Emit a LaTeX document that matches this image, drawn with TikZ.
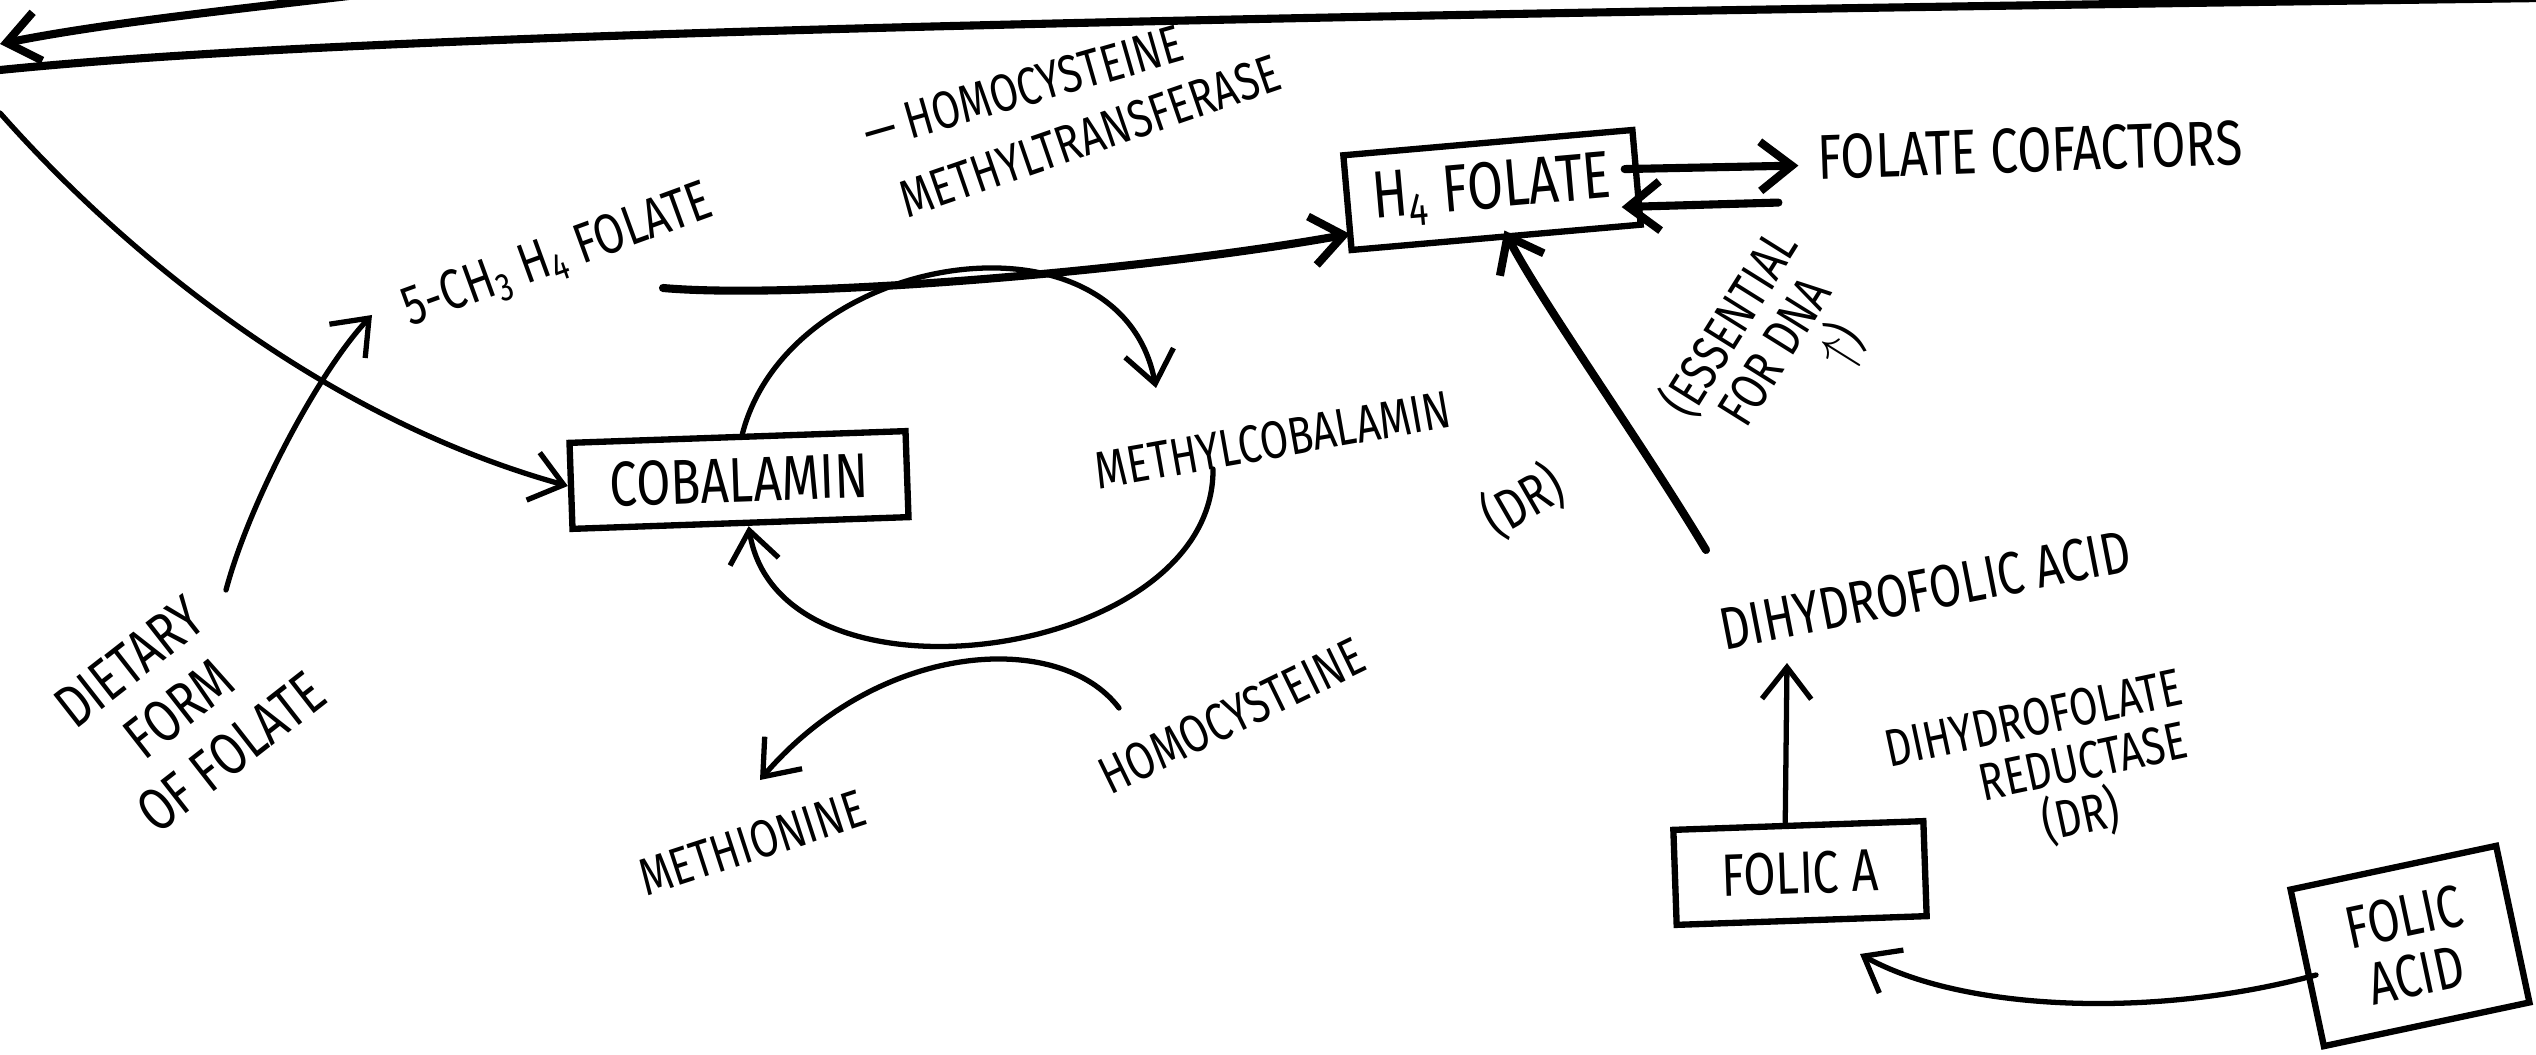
\documentclass[tikz,border=0pt]{standalone}
\usepackage{fontspec}
\newfontfamily\hand[FakeStretch=0.78]{Fira Sans}
\usetikzlibrary{arrows.meta,calc}
\begin{document}
\begin{tikzpicture}[x=0.01cm,y=-0.01cm,
  ink/.style={line width=1.5pt, line cap=round},
  heavy/.style={line width=2.3pt, line cap=round},
  arr/.style={-{Straight Barb[length=9pt,width=14pt]}},
  lbl/.style={inner sep=1pt, align=center},
  fs/.style={font=\hand\fontsize{#1}{#1*1.15}\selectfont},
  fsw/.style={font=\hand\fontsize{#1}{#1*1.5}\selectfont},
  box/.style={draw, line width=1.8pt, inner sep=4pt, align=center}
]
\useasboundingbox (0,0) rectangle (2536,1055);
\fill[white] (0,0) rectangle (2536,1055);

% nodes
\node[box, fs=19pt, rotate=5, minimum width=2.9cm, minimum height=0.95cm] (h4) at (1492,190) {H\textsubscript{4} FOLATE};
\node[lbl, fs=18pt, rotate=2] (cof) at (2030,150) {FOLATE COFACTORS};
\node[box, fs=18pt, rotate=2, minimum width=3.36cm, minimum height=0.86cm] (cob) at (739,480) {COBALAMIN};
\node[lbl, fs=15pt, rotate=10] (mcob) at (1273,440) {METHYLCOBALAMIN};
\node[lbl, fs=16pt, rotate=20] (ch3) at (558,257) {5-CH\textsubscript{3} H\textsubscript{4} FOLATE};
\node[lbl, fs=15pt, rotate=16] (hmt1) at (1023,88) {— HOMOCYSTEINE};
\node[lbl, fs=15pt, rotate=19] (hmt2) at (1090,136) {METHYLTRANSFERASE};
\node[lbl, fs=15pt, rotate=26] (hcy) at (1232,716) {HOMOCYSTEINE};
\node[lbl, fs=15pt, rotate=18] (met) at (752,843) {METHIONINE};
\node[lbl, fsw=17pt, rotate=38, align=left] (diet) at (190,700) {DIETARY\\[2pt]\hspace*{0.6em}FORM\\[2pt]OF FOLATE};
\node[lbl, fs=16pt, rotate=30] (dr1) at (1523,501) {(DR)};
\node[lbl, fsw=15pt, rotate=58] (ess) at (1775,352) {(ESSENTIAL\\FOR DNA\\\hspace*{1.5em}{\Large$\uparrow$})};
\node[lbl, fs=17pt, rotate=11] (dhf) at (1925,590) {DIHYDROFOLIC ACID};
\node[lbl, fsw=15pt, rotate=12] (dhfr) at (2045,773) {DIHYDROFOLATE\\\hspace*{1.5em}REDUCTASE\\\hspace*{1em}(DR)};
\node[box, fs=17pt, rotate=2, minimum width=2.5cm, minimum height=0.95cm] (fa) at (1800,873) {FOLIC A};
\node[box, fs=17pt, rotate=12, minimum width=2.1cm, minimum height=1.6cm] (facid) at (2410,946) {FOLIC\\ACID};

% free ends at the page edge
\coordinate (tlA0) at (0,44);
\coordinate (tlA1) at (440,-15);
\coordinate (tlB0) at (0,70);
\coordinate (tlB1) at (2545,-2);
\coordinate (tlC) at (0,113);

% top-left strokes
\draw[heavy, {Straight Barb[length=9pt,width=14pt]}-] (tlA0) .. controls (120,20) and (280,5) .. (tlA1);
\draw[heavy] (tlB0) .. controls (300,40) and (900,20) .. (tlB1);
\draw[ink, arr] (tlC) .. controls (130,260) and (330,420) .. (cob.west);

% connectors
\draw[ink, arr] ($(diet.center)+(36,-110)$) .. controls (250,500) and (320,370) .. ($(ch3.center)+(-186,58)$);
\draw[heavy, arr] ($(ch3.center)+(105,31)$) .. controls (800,300) and (1150,270) .. ($(h4.center)+(-142,44)$);
\draw[ink, arr] ($(cob.north)+(5,0)$) .. controls (790,250) and (1120,200) .. ($(mcob.center)+(-117,-52)$);
\draw[ink, arr] ($(mcob.center)+(-60,29)$) .. controls (1215,660) and (780,720) .. ($(cob.south)+(8,0)$);
\draw[ink, arr] ($(hcy.center)+(-113,-8)$) .. controls (1060,630) and (880,640) .. ($(met.center)+(8,-63)$);
\draw[heavy, arr] ($(h4.east)+(-15,-8)$) -- ($(cof.west)+(-15,8)$);
\draw[heavy, arr] ($(cof.west)+(-35,45)$) -- ($(h4.east)+(-18,30)$);
\draw[heavy, arr] ($(dhf.center)+(-219,-40)$) .. controls (1640,440) and (1540,300) .. ($(h4.south)+(8,-10)$);
\draw[ink, arr] ($(fa.north)+(-13,0)$) -- ($(dhf.center)+(-138,73)$);
\draw[ink, arr] ($(facid.center)+(-94,29)$) .. controls (2150,1020) and (1960,1010) .. ($(fa.center)+(60,81)$);
\end{tikzpicture}
\end{document}
